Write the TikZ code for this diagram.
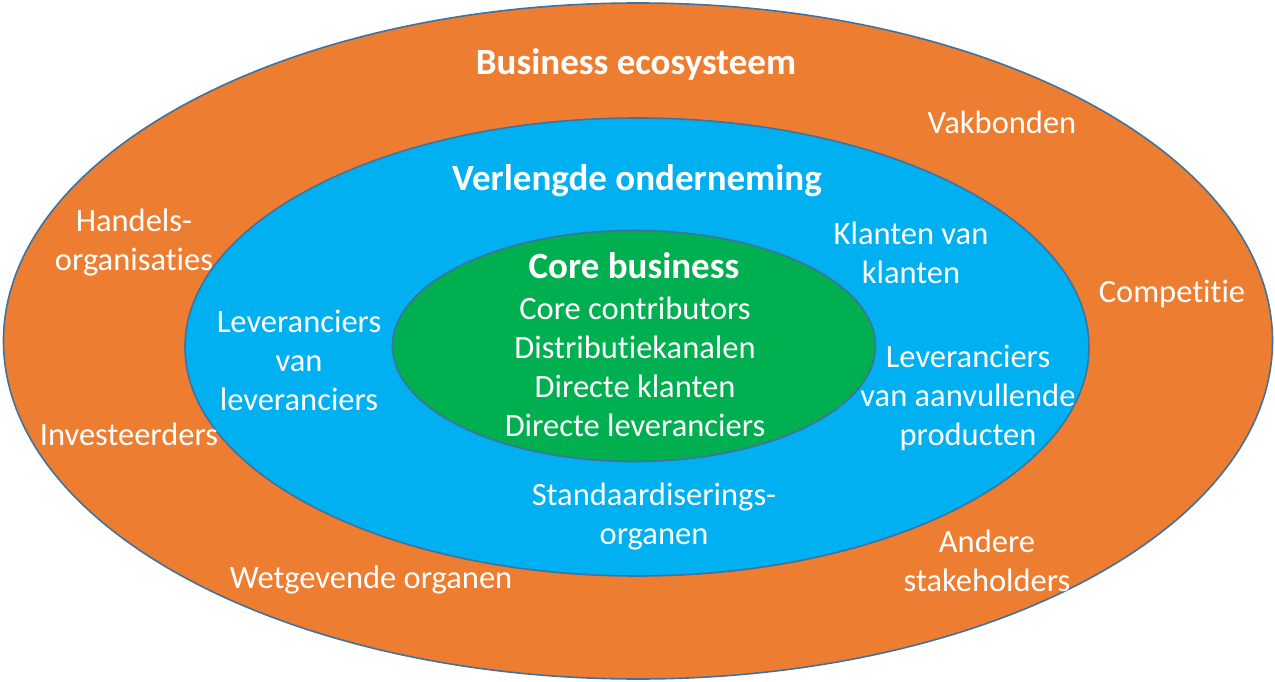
\documentclass[tikz,border=0pt]{standalone}
\usepackage{fontspec}
\setmainfont{Carlito}[RawFeature=-liga]
\usepackage{xcolor}
\usetikzlibrary{positioning,shapes.geometric}
\definecolor{ecoorange}{HTML}{ED7D31}
\definecolor{extblue}{HTML}{00B0F0}
\definecolor{coregreen}{HTML}{00B050}
\definecolor{rimblue}{HTML}{41719C}
\tikzset{
  zone/.style={ellipse,draw=rimblue,line width=1.6pt,inner sep=0pt},
  lbl/.style={text=white,align=center,font=\fontsize{32.5}{39}\selectfont,inner sep=0pt},
  ttl/.style={text=white,align=center,font=\fontsize{37}{39}\selectfont\bfseries,inner sep=0pt},
}
\begin{document}
\begin{tikzpicture}[x=1pt,y=-1pt]
\useasboundingbox (0,0) rectangle (1275,682);
\node[zone,fill=ecoorange,minimum width=1269pt,minimum height=676pt] (eco) at (638,341) {};
\node[zone,fill=extblue,minimum width=904pt,minimum height=458pt] (ext) at (637,347) {};
\node[zone,fill=coregreen,minimum width=483pt,minimum height=231pt] (core) at (634,346) {};
% titels
\node[ttl] (tEco) at (636,64) {Business ecosysteem};
\node[ttl] (tExt) at (637,181) {Verlengde onderneming};
\node[ttl] (tCore) at (634,266) {Core business};
% kern
\node[lbl] (cLines) at (635,367) {Core contributors\\Distributiekanalen\\Directe klanten\\Directe leveranciers};
% verlengde onderneming
\node[lbl] (lvl) at (299,360) {Leveranciers\\van\\leveranciers};
\node[lbl] (kvk) at (911,253) {Klanten van\\klanten};
\node[lbl] (lap) at (968,398) {Leveranciers\\van aanvullende\\producten};
\node[lbl] (std) at (654,517) {Standaardiserings-\\organen};
% ecosysteem
\node[lbl] (vak) at (1002,122) {Vakbonden};
\node[lbl] (han) at (134,243) {Handels-\\organisaties};
\node[lbl] (com) at (1172,294) {Competitie};
\node[lbl] (inv) at (129,434) {Investeerders};
\node[lbl] (wet) at (371,580) {Wetgevende organen};
\node[lbl] (and) at (987,561) {Andere\\stakeholders};
\end{tikzpicture}
\end{document}
